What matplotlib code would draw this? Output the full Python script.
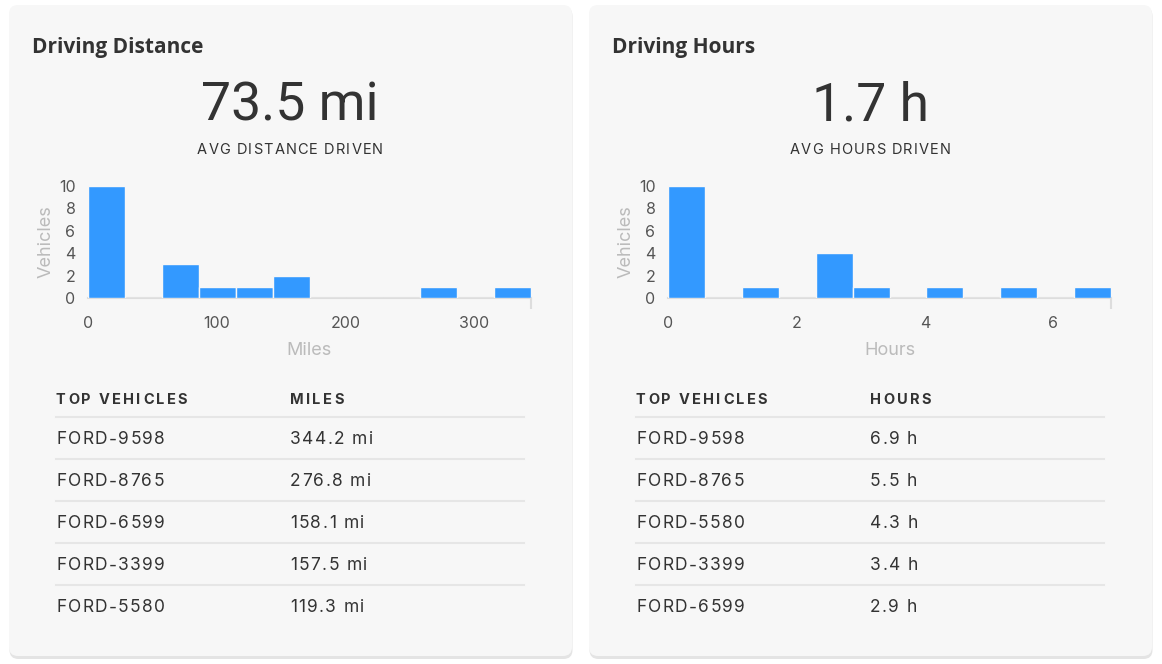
import numpy as np
import matplotlib
matplotlib.use("Agg")
import matplotlib.pyplot as plt
from matplotlib.patches import FancyBboxPatch
from matplotlib.font_manager import FontProperties

# ---------------- data ----------------
dist_title = "Driving Distance"
dist_avg = "73.5 mi"
dist_avg_label = "AVG DISTANCE DRIVEN"
dist_max = 344.2
dist_counts = [10, 0, 3, 1, 1, 2, 0, 0, 0, 1, 0, 1]
dist_ticks = [0, 100, 200, 300]
dist_xlabel = "Miles"
dist_col = "MILES"
dist_vehicles = ["FORD-9598", "FORD-8765", "FORD-6599", "FORD-3399", "FORD-5580"]
dist_values = ["344.2 mi", "276.8 mi", "158.1 mi", "157.5 mi", "119.3 mi"]

hours_title = "Driving Hours"
hours_avg = "1.7 h"
hours_avg_label = "AVG HOURS DRIVEN"
hours_max = 6.9
hours_counts = [10, 0, 1, 0, 4, 1, 0, 1, 0, 1, 0, 1]
hours_ticks = [0, 2, 4, 6]
hours_xlabel = "Hours"
hours_col = "HOURS"
hours_vehicles = ["FORD-9598", "FORD-8765", "FORD-5580", "FORD-3399", "FORD-6599"]
hours_values = ["6.9 h", "5.5 h", "4.3 h", "3.4 h", "2.9 h"]

y_ticks = [0, 2, 4, 6, 8, 10]
y_label = "Vehicles"
col_vehicle = "TOP VEHICLES"

# ---------------- style ----------------
W, H = 1162, 664
CARD_BG = "#f7f7f7"
BAR = "#3399ff"
TEXT = "#333333"
TICK = "#555555"
LABEL = "#bbbbbb"
RULE = "#e6e6e6"
BODY = ["Inter", "DejaVu Sans"]
TITLEF = ["Open Sans", "DejaVu Sans"]
BIGF = ["Roboto", "DejaVu Sans"]

fig = plt.figure(figsize=(W / 100, H / 100), dpi=100)
fig.patch.set_facecolor("white")
renderer = fig.canvas.get_renderer()

bg = fig.add_axes([0, 0, 1, 1])
bg.set_xlim(0, W)
bg.set_ylim(H, 0)
bg.axis("off")


def tracked(x, y, s, size, track, weight="normal", ha="left", color=TEXT):
    """Draw a string with extra letter spacing (track in px)."""
    prop = FontProperties(family=BODY, size=size, weight=weight)
    def w(t):
        if not t:
            return 0.0
        return renderer.get_text_width_height_descent(t, prop, ismath=False)[0]
    total = w(s) + track * (len(s) - 1)
    start = x if ha == "left" else x - total / 2
    for i, ch in enumerate(s):
        if ch == " ":
            continue
        bg.text(start + w(s[:i]) + track * i, y, ch, fontproperties=prop, color=color,
                va="center", ha="left", zorder=3)


def px_axes(x0, y0, x1, y1):
    return fig.add_axes([x0 / W, 1 - y1 / H, (x1 - x0) / W, (y1 - y0) / H])


def card(off, title, avg, avg_label, vmax, counts, ticks, xlabel, col, vehicles, values):
    x0, x1 = 9 + off, 572 + off
    bg.add_patch(FancyBboxPatch((x0 + 0.5, 7), x1 - x0, 652, boxstyle="round,pad=0,rounding_size=9",
                                facecolor="#e4e4e4", edgecolor="none", zorder=1))
    bg.add_patch(FancyBboxPatch((x0, 5), x1 - x0, 651, boxstyle="round,pad=0,rounding_size=9",
                                facecolor=CARD_BG, edgecolor="none", zorder=2))
    bg.text(32 + off, 48, title, fontsize=15, fontweight="bold", color=TEXT,
            family=TITLEF, va="center", ha="left", zorder=3)
    bg.text(290 + off, 106, avg, fontsize=38.5, color=TEXT, family=BIGF,
            va="center", ha="center", zorder=3)
    tracked(290 + off, 150, avg_label, 10.5, 1.1, ha="center")

    # histogram
    ax = px_axes(88 + off, 186, 531 + off, 298)
    ax.set_facecolor("none")
    edges = np.linspace(0, vmax, len(counts) + 1)
    ax.bar(edges[:-1], counts, width=np.diff(edges), align="edge", color=BAR,
           edgecolor=CARD_BG, linewidth=1.0, zorder=3)
    ax.set_xlim(0, vmax)
    ax.set_ylim(0, 10)
    for s in ["top", "right", "left"]:
        ax.spines[s].set_visible(False)
    ax.spines["bottom"].set_color("#dddddd")
    ax.spines["bottom"].set_linewidth(1.5)
    ax.set_xticks(ticks)
    ax.set_xticklabels([str(t) for t in ticks], fontsize=11.5, color=TICK, family=BODY)
    ax.tick_params(axis="x", length=0, pad=13)
    ax.set_xticks([0, vmax], minor=True)
    ax.tick_params(axis="x", which="minor", length=8, width=1.5, color="#dddddd")
    ax.set_yticks(y_ticks)
    ax.set_yticklabels([str(t) for t in y_ticks], fontsize=11.5, color=TICK, family=BODY)
    ax.tick_params(axis="y", length=0, pad=9)
    ax.set_ylabel(y_label, fontsize=13, color=LABEL, family=BODY, labelpad=3)
    ax.set_xlabel(xlabel, fontsize=13, color=LABEL, family=BODY, labelpad=8)

    # table
    tx0, tx1 = 56 + off, 524 + off
    cx = 290 + off
    tracked(tx0, 400, col_vehicle, 10.5, 2.3, weight="bold")
    tracked(cx, 400, col, 10.5, 2.3, weight="bold")
    for i, (v, val) in enumerate(zip(vehicles, values)):
        yl = 417 + 42 * i
        bg.plot([tx0, tx1], [yl, yl], color=RULE, lw=1.5, zorder=3)
        yt = 440 + 42 * i
        tracked(tx0, yt, v, 12.5, 1.4)
        tracked(cx, yt, val, 12.5, 1.4)


card(0, dist_title, dist_avg, dist_avg_label, dist_max, dist_counts, dist_ticks,
     dist_xlabel, dist_col, dist_vehicles, dist_values)
card(580, hours_title, hours_avg, hours_avg_label, hours_max, hours_counts, hours_ticks,
     hours_xlabel, hours_col, hours_vehicles, hours_values)

fig.savefig("out.png", dpi=100, facecolor="white")
